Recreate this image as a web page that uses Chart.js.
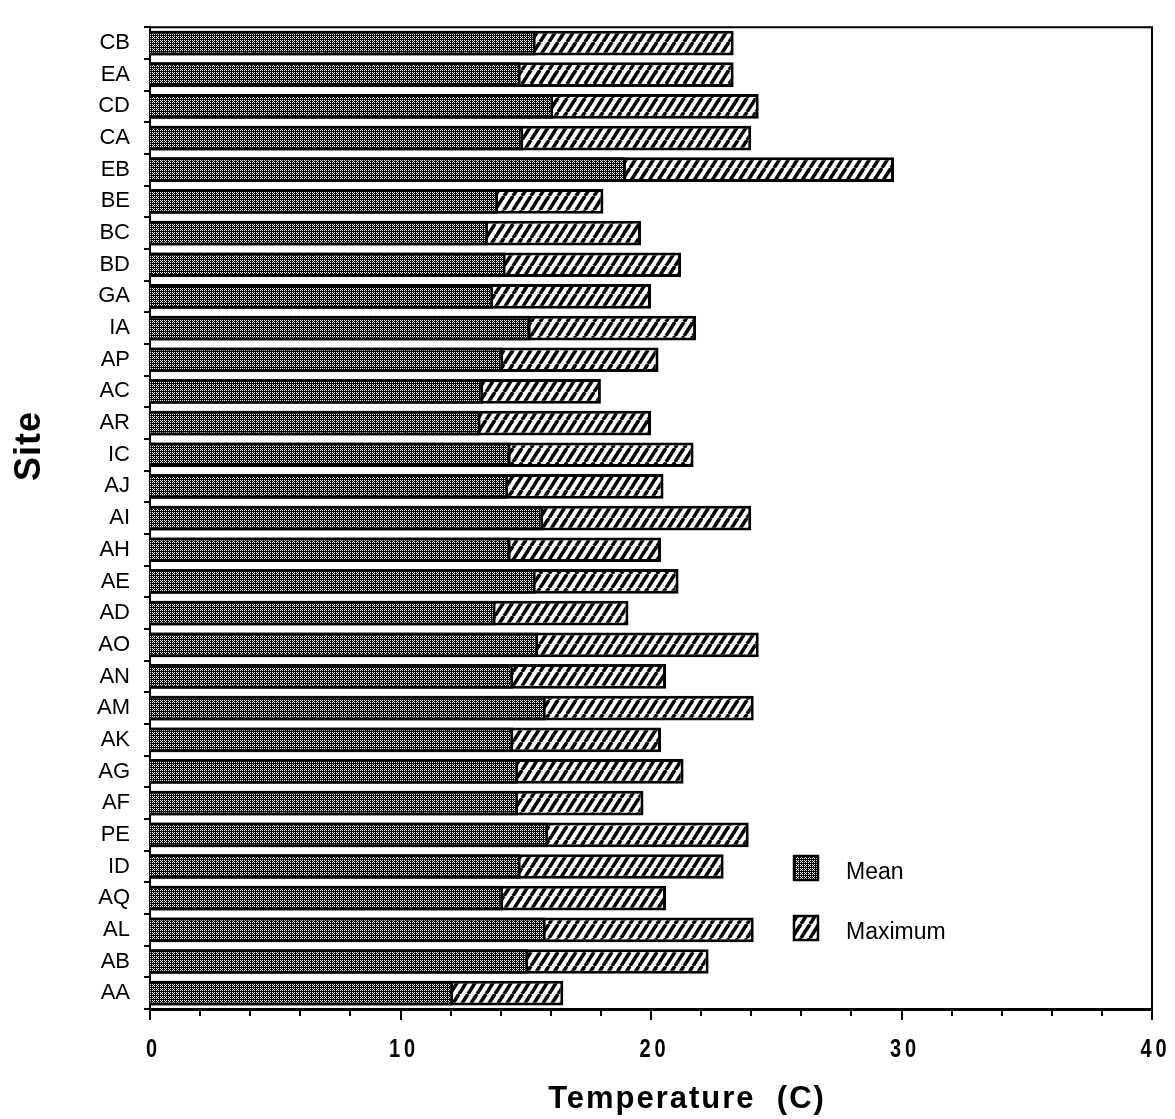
<!DOCTYPE html>
<html>
<head>
<meta charset="utf-8">
<title>Site temperatures</title>
<script src="https://cdn.jsdelivr.net/npm/chart.js@4.4.1/dist/chart.umd.min.js"></script>
<style>
  html, body { margin: 0; padding: 0; background: #fff; }
  #chart { display: block; }
</style>
</head>
<body>
<canvas id="chart" width="1175" height="1119"></canvas>
<script>
// Sites listed top to bottom as in the figure
const sites = ['CB', 'EA', 'CD', 'CA', 'EB', 'BE', 'BC', 'BD', 'GA', 'IA', 'AP', 'AC', 'AR', 'IC', 'AJ', 'AI',
               'AH', 'AE', 'AD', 'AO', 'AN', 'AM', 'AK', 'AG', 'AF', 'PE', 'ID', 'AQ', 'AL', 'AB', 'AA'];
const meanTemp = [15.4, 14.8, 16.1, 14.9, 19.0, 13.9, 13.5, 14.2, 13.7, 15.2, 14.1, 13.3, 13.2, 14.4, 14.3, 15.7,
                  14.4, 15.4, 13.8, 15.5, 14.5, 15.8, 14.5, 14.7, 14.7, 15.9, 14.8, 14.1, 15.8, 15.1, 12.1];
const maxTemp = [23.3, 23.3, 24.3, 24.0, 29.7, 18.1, 19.6, 21.2, 20.0, 21.8, 20.3, 18.0, 20.0, 21.7, 20.5, 24.0,
                 20.4, 21.1, 19.1, 24.3, 20.6, 24.1, 20.4, 21.3, 19.7, 23.9, 22.9, 20.6, 24.1, 22.3, 16.5];
const seriesNames = ['Mean', 'Maximum'];
const xTickLabels = ['0', '10', '20', '30', '40'];
const xTitle = 'Temperature  (C)';
const yTitle = 'Site';

const FONT = "'Liberation Sans', Arial, Helvetica, sans-serif";

// dotted dark grey fill used for the mean bars
function stipplePattern() {
    const c = document.createElement('canvas');
    c.width = 4;
    c.height = 4;
    const g = c.getContext('2d');
    const bayer = [0, 8, 2, 10, 12, 4, 14, 6, 3, 11, 1, 9, 15, 7, 13, 5];
    const img = g.createImageData(4, 4);
    for (let i = 0; i < 16; i++) {
        const v = bayer[i] < 5 ? 255 : 0;
        img.data[i * 4] = v;
        img.data[i * 4 + 1] = v;
        img.data[i * 4 + 2] = v;
        img.data[i * 4 + 3] = 255;
    }
    g.putImageData(img, 0, 0);
    return g.createPattern(c, 'repeat');
}

// diagonal hatching used for the maximum bars
function hatchPattern() {
    const w = 9, h = 14;
    const c = document.createElement('canvas');
    c.width = w;
    c.height = h;
    const g = c.getContext('2d');
    g.fillStyle = '#fff';
    g.fillRect(0, 0, w, h);
    g.strokeStyle = '#000';
    g.lineWidth = 3.6;
    for (const dx of [-w, 0, w]) {
        g.beginPath();
        g.moveTo(dx, h);
        g.lineTo(dx + w, 0);
        g.stroke();
    }
    return g.createPattern(c, 'repeat');
}

const decorations = {
    id: 'decorations',
    afterDraw(chart) {
        const ctx = chart.ctx;
        const area = chart.chartArea;
        const xs = chart.scales.x;
        ctx.save();
        ctx.strokeStyle = '#000';
        ctx.fillStyle = '#000';

        // top and right sides of the frame
        ctx.lineWidth = 2;
        ctx.beginPath();
        ctx.moveTo(area.left, area.top);
        ctx.lineTo(area.right, area.top);
        ctx.lineTo(area.right, area.bottom);
        ctx.stroke();

        // x ticks, longer at the labelled values
        xs.ticks.forEach(t => {
            const px = Math.round(xs.getPixelForValue(t.value));
            const len = t.value % 10 === 0 ? 11 : 7;
            ctx.beginPath();
            ctx.moveTo(px, area.bottom);
            ctx.lineTo(px, area.bottom + len);
            ctx.stroke();
        });

        // x tick labels, bold and narrow with wide letter spacing
        ctx.textBaseline = 'alphabetic';
        ctx.textAlign = 'left';
        ctx.font = 'bold 25px ' + FONT;
        ctx.letterSpacing = '5px';
        xTickLabels.forEach(lab => {
            const px = xs.getPixelForValue(Number(lab));
            const w = ctx.measureText(lab).width - 5;
            ctx.save();
            ctx.translate(px, 1057);
            ctx.scale(0.8, 1);
            ctx.fillText(lab, -w / 2 + 2, 0);
            ctx.restore();
        });

        // axis titles
        ctx.letterSpacing = '2px';
        ctx.font = 'bold 31px ' + FONT;
        ctx.textAlign = 'center';
        ctx.fillText(xTitle, 687, 1108);

        ctx.save();
        ctx.translate(40, 446);
        ctx.rotate(-Math.PI / 2);
        ctx.letterSpacing = '1px';
        ctx.font = 'bold 36px ' + FONT;
        ctx.fillText(yTitle, 0, 0);
        ctx.restore();

        // legend inside the plot
        ctx.letterSpacing = '0px';
        ctx.textAlign = 'left';
        ctx.font = '23px ' + FONT;
        chart.data.datasets.forEach((ds, i) => {
            const top = 856 + i * 60;
            ctx.fillStyle = ds.backgroundColor;
            ctx.fillRect(794, top, 24, 24);
            ctx.lineWidth = 2.5;
            ctx.strokeRect(794, top, 24, 24);
            ctx.fillStyle = '#000';
            ctx.fillText(ds.label, 846, top + 23);
        });
        ctx.restore();
    }
};

const ctx = document.getElementById('chart').getContext('2d');
const meanFill = stipplePattern();
const maxFill = hatchPattern();

new Chart(ctx, {
    type: 'bar',
    data: {
        labels: sites,
        datasets: [
            {
                label: seriesNames[0],
                data: meanTemp,
                backgroundColor: meanFill,
                borderColor: '#000',
                borderWidth: 3,
                grouped: false,
                barPercentage: 0.78,
                categoryPercentage: 1
            },
            {
                label: seriesNames[1],
                data: maxTemp,
                backgroundColor: maxFill,
                borderColor: '#000',
                borderWidth: 3,
                grouped: false,
                barPercentage: 0.78,
                categoryPercentage: 1
            }
        ]
    },
    options: {
        indexAxis: 'y',
        responsive: false,
        animation: false,
        events: [],
        layout: { padding: { top: 12, right: 23, left: 0, bottom: 0 } },
        plugins: {
            legend: { display: false },
            tooltip: { enabled: false }
        },
        scales: {
            x: {
                type: 'linear',
                min: 0,
                max: 40,
                ticks: { stepSize: 2, display: false },
                grid: { display: false },
                border: { display: true, color: '#000', width: 3 },
                afterFit: s => { s.height = 110; }
            },
            y: {
                ticks: { color: '#000', padding: 14, font: { family: FONT, size: 22 } },
                grid: { drawOnChartArea: false, offset: true, tickLength: 6, color: '#000', lineWidth: 2 },
                border: { display: true, color: '#000', width: 2 },
                afterFit: s => { s.width = 150; }
            }
        }
    },
    plugins: [decorations]
});
</script>
</body>
</html>
